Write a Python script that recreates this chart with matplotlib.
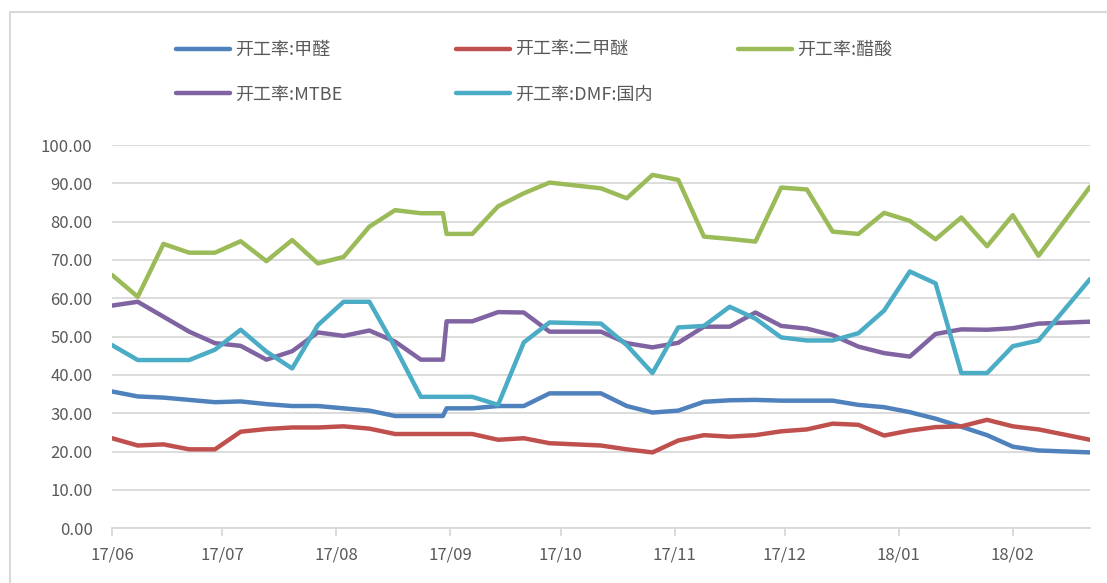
import matplotlib
matplotlib.use("Agg")
import numpy as np
import matplotlib.pyplot as plt
import matplotlib.dates as mdates
from matplotlib.patches import Rectangle

plt.rcParams['font.family'] = ['Noto Sans CJK SC', 'DejaVu Sans']

# weekly observation dates (Thursdays, with an extra reading on 08-30, holidays skipped)
dates = np.array([
    '2017-06-01', '2017-06-08', '2017-06-15', '2017-06-22', '2017-06-29',
    '2017-07-06', '2017-07-13', '2017-07-20', '2017-07-27', '2017-08-03',
    '2017-08-10', '2017-08-17', '2017-08-24', '2017-08-30', '2017-08-31',
    '2017-09-07', '2017-09-14', '2017-09-21', '2017-09-28', '2017-10-12',
    '2017-10-19', '2017-10-26', '2017-11-02', '2017-11-09', '2017-11-16',
    '2017-11-23', '2017-11-30', '2017-12-07', '2017-12-14', '2017-12-21',
    '2017-12-28', '2018-01-04', '2018-01-11', '2018-01-18', '2018-01-25',
    '2018-02-01', '2018-02-08', '2018-02-22'], dtype='datetime64[D]')

# operating rates (%)
formaldehyde = [35.7, 34.4, 34.1, 33.5, 32.9, 33.1, 32.4, 31.9, 31.9, 31.3,
                30.7, 29.3, 29.3, 29.3, 31.3, 31.3, 31.9, 31.9, 35.2, 35.2,
                31.9, 30.2, 30.7, 33.0, 33.4, 33.5, 33.3, 33.3, 33.3, 32.2,
                31.6, 30.3, 28.6, 26.5, 24.3, 21.3, 20.3, 19.8]
dme = [23.5, 21.6, 21.9, 20.6, 20.6, 25.2, 25.9, 26.3, 26.3, 26.6,
       26.0, 24.6, 24.6, 24.6, 24.6, 24.6, 23.1, 23.5, 22.2, 21.6,
       20.6, 19.8, 22.9, 24.3, 23.9, 24.3, 25.3, 25.8, 27.3, 27.0,
       24.2, 25.5, 26.4, 26.6, 28.3, 26.6, 25.8, 23.1]
acetic = [66.1, 60.4, 74.2, 71.9, 71.9, 74.9, 69.7, 75.2, 69.1, 70.8,
          78.7, 83.0, 82.2, 82.2, 76.8, 76.8, 84.0, 87.4, 90.2, 88.7,
          86.1, 92.2, 90.9, 76.1, 75.5, 74.8, 88.9, 88.4, 77.4, 76.8,
          82.3, 80.2, 75.4, 81.1, 73.6, 81.7, 71.1, 89.1]
mtbe = [58.1, 59.1, 55.2, 51.3, 48.3, 47.6, 44.0, 46.2, 51.1, 50.2,
        51.6, 48.7, 44.0, 44.0, 54.0, 54.0, 56.4, 56.3, 51.3, 51.3,
        48.3, 47.2, 48.4, 52.6, 52.6, 56.3, 52.8, 52.1, 50.4, 47.4,
        45.7, 44.8, 50.7, 51.9, 51.8, 52.2, 53.4, 53.9]
dmf = [47.8, 43.9, 43.9, 43.9, 46.6, 51.8, 46.1, 41.7, 53.0, 59.1,
       59.1, 47.2, 34.3, 34.3, 34.3, 34.3, 32.2, 48.5, 53.7, 53.4,
       47.8, 40.5, 52.4, 52.8, 57.8, 54.7, 49.8, 49.0, 49.0, 50.9,
       56.8, 67.0, 63.9, 40.5, 40.5, 47.5, 49.0, 65.0]

labels = ['开工率:甲醛', '开工率:二甲醚', '开工率:醋酸', '开工率:MTBE', '开工率:DMF:国内']
colors = ['#4F81BD', '#C0504D', '#9BBB59', '#8064A2', '#4BACC6']
yticks = np.arange(0, 101, 10)

W, H = 1107, 583
fig = plt.figure(figsize=(W / 100, H / 100), dpi=100)
ax = fig.add_axes([112 / W, 1 - 528.3 / H, (1090 - 112) / W, (528.3 - 145) / H])

lines = []
for series, lab, col in zip([formaldehyde, dme, acetic, mtbe, dmf], labels, colors):
    ln, = ax.plot(dates, series, color=col, lw=3.2, label=lab,
                  solid_joinstyle='round', solid_capstyle='round')
    lines.append(ln)

ax.set_ylim(0, 100)
ax.set_xlim(dates[0], dates[-1])
ax.set_yticks(yticks)
ax.set_yticklabels([f'{v:.2f}' for v in yticks])
ax.xaxis.set_major_locator(mdates.MonthLocator())
ax.xaxis.set_major_formatter(mdates.DateFormatter('%y/%m'))

ax.yaxis.grid(True, color='#d9d9d9', lw=1.3)
ax.set_axisbelow(True)
for s in ['left', 'right', 'top']:
    ax.spines[s].set_visible(False)
ax.spines['bottom'].set_color('#d9d9d9')
ax.spines['bottom'].set_linewidth(1.3)
ax.tick_params(axis='y', length=0, pad=14, labelsize=12, labelcolor='#595959')
ax.tick_params(axis='x', length=6, width=1.3, color='#d9d9d9', pad=7,
               labelsize=12, labelcolor='#595959')

# chart-area border
fig.add_artist(Rectangle((9.5 / W, -0.1), 2, (H - 12.5) / H + 0.1,
                         transform=fig.transFigure, fill=False,
                         edgecolor='#d9d9d9', lw=1.5, clip_on=False))

# legend: three columns, filled row by row
columns = [[0, 3], [1, 4], [2]]
col_x = [176, 456, 738]
for idx, x0 in zip(columns, col_x):
    fig.legend([lines[i] for i in idx], [labels[i] for i in idx],
               loc='upper left', bbox_to_anchor=(x0 / W, 1 - 41 / H),
               frameon=False, fontsize=13, handlelength=3.0,
               handletextpad=0.25, labelspacing=1.48, borderpad=0,
               borderaxespad=0, labelcolor='#595959')

fig.savefig('out.png', dpi=100, facecolor='white')
